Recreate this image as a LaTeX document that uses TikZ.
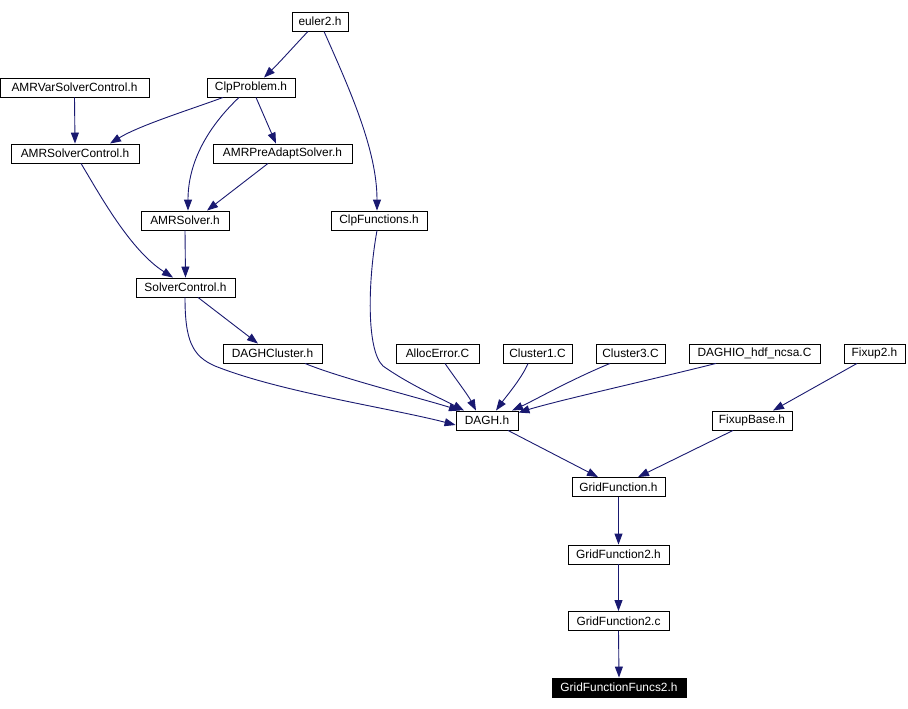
\documentclass[tikz,border=0pt]{standalone}
\usepackage{fontspec}
\setmainfont{Liberation Sans}
\usetikzlibrary{arrows.meta}
\definecolor{edgec}{HTML}{191970}
\begin{document}
\begin{tikzpicture}[x=1pt,y=-1pt,
  box/.style={draw=black, line width=0.9pt, minimum height=19pt, inner sep=0pt, font=\fontsize{11.9}{12}\selectfont, anchor=center},
  hl/.style={box, fill=black, text=white},
  edge/.style={draw=edgec, line width=0.9pt, -{Triangle[length=11pt,width=8pt]}}]
\useasboundingbox (0,0) rectangle (908,709);
\node[box, minimum width=56pt] (euler) at (320,21.5) {euler2.h};
\node[box, minimum width=149pt] (amrvar) at (74.5,87.5) {AMRVarSolverControl.h};
\node[box, minimum width=88pt] (clp) at (251,87.5) {ClpProblem.h};
\node[box, minimum width=128pt] (amrsc) at (75,153.5) {AMRSolverControl.h};
\node[box, minimum width=139pt] (amrpre) at (282.5,153.5) {AMRPreAdaptSolver.h};
\node[box, minimum width=88pt] (amrs) at (185,220.5) {AMRSolver.h};
\node[box, minimum width=96pt] (clpf) at (379,220.5) {ClpFunctions.h};
\node[box, minimum width=99pt] (sc) at (185.5,287.5) {SolverControl.h};
\node[box, minimum width=99pt] (daghcl) at (272.5,353.5) {DAGHCluster.h};
\node[box, minimum width=83pt] (alloc) at (437.5,353.5) {AllocError.C};
\node[box, minimum width=69pt] (c1) at (537.5,353.5) {Cluster1.C};
\node[box, minimum width=69pt] (c3) at (630.5,353.5) {Cluster3.C};
\node[box, minimum width=131pt] (daghio) at (754.5,353.5) {DAGHIO\_hdf\_ncsa.C};
\node[box, minimum width=61pt] (fix2) at (874.5,353.5) {Fixup2.h};
\node[box, minimum width=62pt] (dagh) at (487,420.5) {DAGH.h};
\node[box, minimum width=80pt] (fb) at (752,420.5) {FixupBase.h};
\node[box, minimum width=93pt] (gf) at (618.5,487) {GridFunction.h};
\node[box, minimum width=101pt] (gf2h) at (618.5,554.5) {GridFunction2.h};
\node[box, minimum width=101pt] (gf2c) at (618.5,621) {GridFunction2.c};
\node[hl, minimum width=134pt] (gff2) at (619,687.5) {GridFunctionFuncs2.h};

\draw[edge] ([xshift=-12pt]euler.south) .. controls (296,44) and (280,62) .. ([xshift=13pt]clp.north);
\draw[edge] ([xshift=4pt]euler.south) .. controls (350,90) and (377,150) .. ([xshift=-2pt]clpf.north);
\draw[edge] (amrvar.south) -- (amrsc.north);
\draw[edge] ([xshift=-28pt]clp.south) .. controls (195,108) and (140,125) .. ([xshift=35pt]amrsc.north);
\draw[edge] ([xshift=-12pt]clp.south) .. controls (210,125) and (188,160) .. ([xshift=3pt]amrs.north);
\draw[edge] ([xshift=5pt]clp.south) -- ([xshift=-6.5pt]amrpre.north);
\draw[edge] ([xshift=-14.5pt]amrpre.south) -- ([xshift=22pt]amrs.north);
\draw[edge] ([xshift=6pt]amrsc.south) .. controls (100,195) and (130,250) .. ([xshift=-12.5pt]sc.north);
\draw[edge] (amrs.south) -- (sc.north);
\draw[edge] ([xshift=12.5pt]sc.south) -- ([xshift=-14.5pt]daghcl.north);
\draw[edge] ([xshift=-0.5pt]sc.south) .. controls (185,340) and (192,356) .. (215,366) .. controls (280,392) and (390,408) .. ([yshift=-4.5pt]dagh.west);
\draw[edge] ([xshift=32.5pt]daghcl.south) .. controls (340,378) and (420,398) .. ([xshift=-27pt]dagh.north);
\draw[edge] ([xshift=-2pt]clpf.south) .. controls (368,280) and (366,350) .. (383,366) .. controls (410,385) and (440,398) .. ([xshift=-23pt]dagh.north);
\draw[edge] ([xshift=7.5pt]alloc.south) .. controls (455,378) and (468,395) .. ([xshift=-11pt]dagh.north);
\draw[edge] ([xshift=-9.5pt]c1.south) .. controls (522,378) and (505,398) .. ([xshift=9pt]dagh.north);
\draw[edge] ([xshift=-20.5pt]c3.south) .. controls (570,380) and (535,400) .. ([xshift=25pt]dagh.north);
\draw[edge] ([xshift=-38.5pt]daghio.south) .. controls (650,380) and (560,400) .. ([yshift=-2pt]dagh.north east);
\draw[edge] ([xshift=-17.5pt]fix2.south) -- ([xshift=21pt]fb.north);
\draw[edge] ([xshift=21pt]dagh.south) -- ([xshift=-20.5pt]gf.north);
\draw[edge] ([xshift=-19pt]fb.south) -- ([xshift=19.5pt]gf.north);
\draw[edge] (gf.south) -- (gf2h.north);
\draw[edge] (gf2h.south) -- (gf2c.north);
\draw[edge] (gf2c.south) -- (gff2.north);
\end{tikzpicture}
\end{document}
